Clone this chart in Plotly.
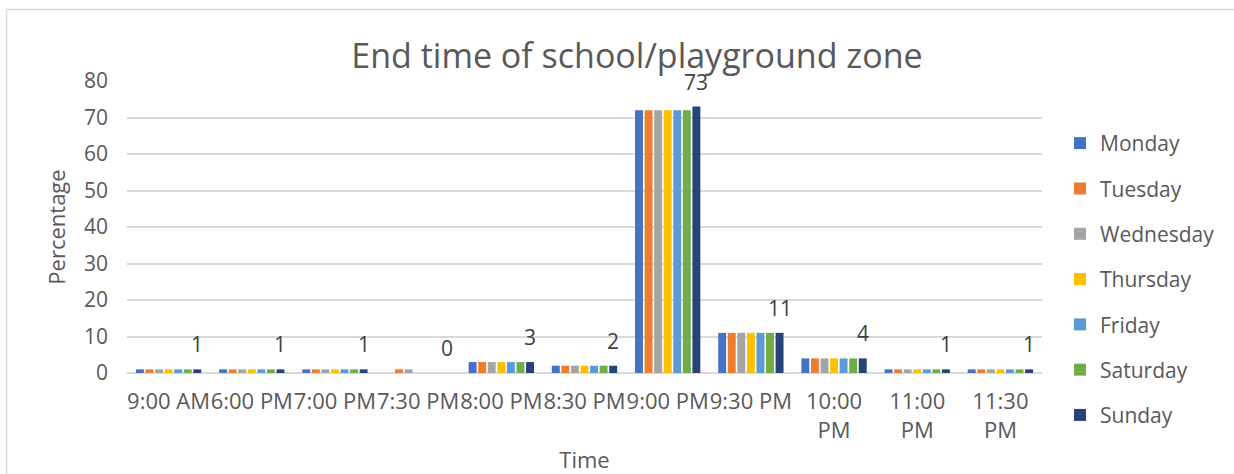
import plotly.graph_objects as go

# Chart data
times = ["9:00 AM", "6:00 PM", "7:00 PM", "7:30 PM", "8:00 PM", "8:30 PM",
         "9:00 PM", "9:30 PM", "10:00 PM", "11:00 PM", "11:30 PM"]
time_labels = ["9:00 AM", "6:00 PM", "7:00 PM", "7:30 PM", "8:00 PM", "8:30 PM",
               "9:00 PM", "9:30 PM", "10:00<br>PM", "11:00<br>PM", "11:30<br>PM"]
days = ["Monday", "Tuesday", "Wednesday", "Thursday", "Friday", "Saturday", "Sunday"]

monday = [1, 1, 1, 0, 3, 2, 72, 11, 4, 1, 1]
tuesday = [1, 1, 1, 1, 3, 2, 72, 11, 4, 1, 1]
wednesday = [1, 1, 1, 1, 3, 2, 72, 11, 4, 1, 1]
thursday = [1, 1, 1, 0, 3, 2, 72, 11, 4, 1, 1]
friday = [1, 1, 1, 0, 3, 2, 72, 11, 4, 1, 1]
saturday = [1, 1, 1, 0, 3, 2, 72, 11, 4, 1, 1]
sunday = [1, 1, 1, 0, 3, 2, 73, 11, 4, 1, 1]

series = [monday, tuesday, wednesday, thursday, friday, saturday, sunday]
colors = ["#4472C4", "#ED7D31", "#A5A5A5", "#FFC000", "#5B9BD5", "#70AD47", "#264478"]

W, H = 1234, 474
ML, MR, MT, MB = 127, 192, 81, 101
BARGAP = 0.195
BARGROUPGAP = 0.17

FONT = "Open Sans"
TEXT = "#595959"

fig = go.Figure()
for name, vals, col in zip(days, series, colors):
    fig.add_trace(go.Bar(
        x=times, y=vals, name=name, marker_color=col,
        marker_line_width=0, legendgroup=name,
    ))

# Value labels above the Sunday bars
plot_w = W - ML - MR
slot = plot_w / len(times)
n = len(days)
sun_offset = slot * (1 - BARGAP) * ((n - 0.5) / n - 0.5)
annotations = []
for t, v in zip(times, sunday):
    annotations.append(dict(
        x=t, y=v, xref="x", yref="y", text=str(v), showarrow=False,
        xshift=sun_offset, yshift=25, yanchor="middle", xanchor="center",
        font=dict(family=FONT, size=21, color="#404040"),
    ))

# Chart-area frame (top and left edges)
px = lambda p: (p - ML) / plot_w
py = lambda p: (H - MB - p) / (H - MT - MB)
shapes = [
    dict(type="line", xref="paper", yref="paper", x0=px(6.5), x1=px(W + 5),
         y0=py(9.5), y1=py(9.5), line=dict(color="#D9D9D9", width=1.5)),
    dict(type="line", xref="paper", yref="paper", x0=px(6.5), x1=px(6.5),
         y0=py(9.5), y1=py(H + 5), line=dict(color="#D9D9D9", width=1.5)),
]

fig.update_layout(
    width=W, height=H,
    margin=dict(l=ML, r=MR, t=MT, b=MB, autoexpand=False),
    paper_bgcolor="white", plot_bgcolor="white",
    barmode="group", bargap=BARGAP, bargroupgap=BARGROUPGAP,
    title=dict(text="End time of school/playground zone", x=637 / W, xanchor="center",
               xref="container", y=1 - 56 / H, yanchor="middle",
               font=dict(family=FONT, size=34, color=TEXT)),
    font=dict(family=FONT, color=TEXT),
    xaxis=dict(
        tickvals=times, ticktext=time_labels, showgrid=False, showline=False,
        zeroline=False, ticks="", ticklabelstandoff=13, tickangle=0,
        tickfont=dict(family=FONT, size=22, color=TEXT),
        title=dict(text="Time", font=dict(family=FONT, size=22, color=TEXT), standoff=10),
    ),
    yaxis=dict(
        range=[0, 80], dtick=10, showgrid=True, gridcolor="#D9D9D9", gridwidth=1.5,
        zeroline=True, zerolinecolor="#D9D9D9", zerolinewidth=1.5, showline=False,
        ticks="", ticklabelstandoff=18,
        tickfont=dict(family=FONT, size=21, color=TEXT),
        title=dict(text="Percentage", font=dict(family=FONT, size=22, color=TEXT), standoff=12),
    ),
    legend=dict(
        x=px(1060), xanchor="left", y=py(123), yanchor="top",
        font=dict(family=FONT, size=21, color=TEXT),
        traceorder="grouped", tracegroupgap=15, bgcolor="rgba(0,0,0,0)",
        maxheight=460,
    ),
    annotations=annotations,
    shapes=shapes,
)

fig.write_html("out.html")
